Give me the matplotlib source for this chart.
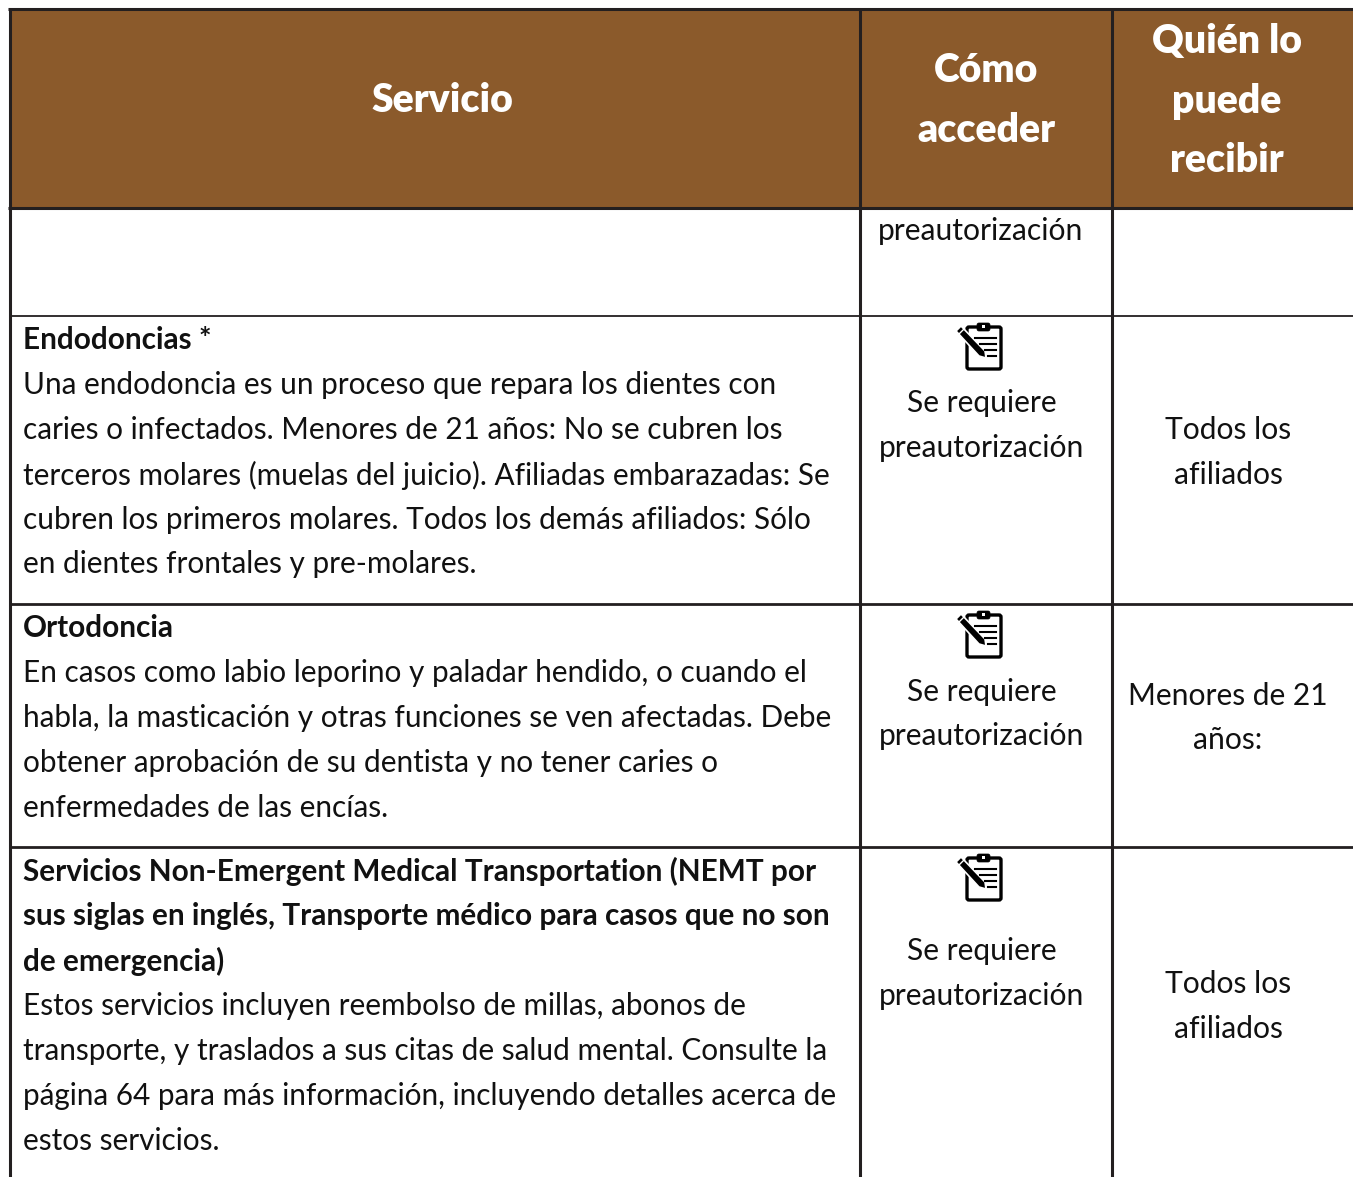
import matplotlib
matplotlib.use('Agg')
import matplotlib.pyplot as plt
from matplotlib.patches import Rectangle, Polygon, FancyBboxPatch

W, H = 1353, 1177

header_labels = [['Servicio'], ['Cómo', 'acceder'], ['Quién lo', 'puede', 'recibir']]
col_lines = [9.5, 860, 1112]
row_lines = [316, 604, 847]

left_lines = [
    ('Endodoncias *', True, 338),
    ('Una endodoncia es un proceso que repara los dientes con', False, 383),
    ('caries o infectados. Menores de 21 años: No se cubren los', False, 428),
    ('terceros molares (muelas del juicio). Afiliadas embarazadas: Se', False, 473),
    ('cubren los primeros molares. Todos los demás afiliados: Sólo', False, 518),
    ('en dientes frontales y pre-molares.', False, 562),
    ('Ortodoncia', True, 626),
    ('En casos como labio leporino y paladar hendido, o cuando el', False, 671),
    ('habla, la masticación y otras funciones se ven afectadas. Debe', False, 716),
    ('obtener aprobación de su dentista y no tener caries o', False, 761),
    ('enfermedades de las encías.', False, 806),
    ('Servicios Non-Emergent Medical Transportation (NEMT por', True, 869),
    ('sus siglas en inglés, Transporte médico para casos que no son', True, 914),
    ('de emergencia)', True, 959),
    ('Estos servicios incluyen reembolso de millas, abonos de', False, 1004),
    ('transporte, y traslados a sus citas de salud mental. Consulte la', False, 1049),
    ('página 64 para más información, incluyendo detalles acerca de', False, 1094),
    ('estos servicios.', False, 1139),
]
access_lines = [
    ('preautorización', 981, 229),
    ('Se requiere', 982, 401), ('preautorización', 982, 446),
    ('Se requiere', 982, 690), ('preautorización', 982, 734),
    ('Se requiere', 982, 949), ('preautorización', 982, 994),
]
who_lines = [
    ('Todos los', 428), ('afiliados', 473),
    ('Menores de 21', 694), ('años:', 738),
    ('Todos los', 982), ('afiliados', 1027),
]
icon_tops = [323, 611, 854]

BROWN = '#8B5A2B'
LINE = '#231F20'
TEXT = '#111111'
FONT = ['Lato', 'DejaVu Sans']
BODY = 21.6
LEFT_BODY = 21.4

fig = plt.figure(figsize=(W / 100, H / 100), dpi=100)
ax = fig.add_axes([0, 0, 1, 1])
ax.set_xlim(0, W)
ax.set_ylim(H, 0)
ax.axis('off')

# header band
ax.add_patch(Rectangle((10, 10), 1343, 197, facecolor=BROWN, edgecolor='none'))
ax.plot([8, 1353], [9, 9], color=LINE, lw=2.2, solid_capstyle='butt')
ax.plot([8, 1353], [207.5, 207.5], color=LINE, lw=2.2, solid_capstyle='butt')
for x in col_lines:
    ax.plot([x, x], [8, H], color=LINE, lw=2.2, solid_capstyle='butt')
for y in row_lines:
    ax.plot([10, 1353], [y, y], color=LINE, lw=2.0 if y != 316 else 1.3, solid_capstyle='butt')

for x, lines, ys in zip([442, 986, 1227], header_labels, [[98], [68, 128], [38, 98, 158]]):
    for t, y in zip(lines, ys):
        ax.text(x, y - 0.5, t, color='white', fontsize=28.2, fontweight='heavy', family=FONT,
                ha='center', va='center_baseline')

for t, bold, y in left_lines:
    ax.text(23, y - 0.5, t, color=TEXT, fontsize=LEFT_BODY, family=FONT, ha='left', va='center_baseline',
            fontweight='bold' if bold else 'normal')
for t, x, y in access_lines:
    ax.text(x, y - 0.5, t, color=TEXT, fontsize=BODY, family=FONT, ha='center', va='center_baseline')
for t, y in who_lines:
    ax.text(1228, y - 0.5, t, color=TEXT, fontsize=BODY, family=FONT, ha='center', va='center_baseline')

# clipboard icons
for top in icon_tops:
    ax.add_patch(FancyBboxPatch((967, top + 4), 34, 42, boxstyle='round,pad=0,rounding_size=2',
                                facecolor='white', edgecolor='black', lw=2.4))
    ax.add_patch(FancyBboxPatch((977, top), 13, 8, boxstyle='round,pad=0,rounding_size=2',
                                facecolor='black', edgecolor='black', lw=0.5))
    ax.add_patch(Rectangle((981.5, top + 2), 3, 2.5, facecolor='white', edgecolor='none'))
    for dy, x0 in zip((15, 21, 27, 33), (975, 980, 985, 988)):
        ax.plot([x0, 996], [top + dy, top + dy], color='black', lw=1.5)
    ax.add_patch(Polygon([(956, top + 8), (961, top + 3), (985, top + 28), (986, top + 35), (979, top + 33)],
                         facecolor='black', edgecolor='white', lw=1.2))
    ax.plot([959, 964], [top + 11, top + 6], color='white', lw=1.0)

fig.savefig('out.png', dpi=100)
